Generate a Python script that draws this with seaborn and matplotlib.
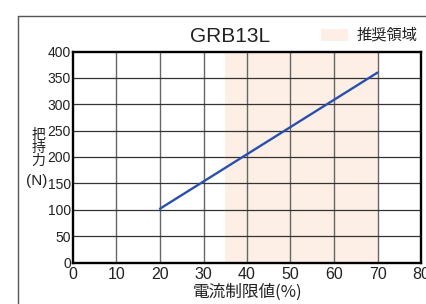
import matplotlib
matplotlib.use("Agg")
import matplotlib.pyplot as plt
import seaborn as sns
import pandas as pd
from matplotlib.lines import Line2D
from matplotlib.patches import Rectangle

# Data
current_limit = [20, 70]          # 電流制限値 (%)
holding_force = [102, 360]        # 把持力 (N)
recommended_range = [35, 70]
x_ticks = [0, 10, 20, 30, 40, 50, 60, 70, 80]
y_ticks = [0, 50, 100, 150, 200, 250, 300, 350, 400]
title = "GRB13L"
legend_label = "推奨領域"
x_label = "電流制限値(%)"
y_label = "把\n持\n力"
y_unit = "(N)"

sns.set_style("white")
plt.rcParams['font.family'] = ['Liberation Sans', 'Noto Sans CJK JP', 'DejaVu Sans']
cjk = ['Noto Sans CJK JP', 'DejaVu Sans']

fig = plt.figure(figsize=(4.27, 3.04), dpi=100)
ax = fig.add_axes([73/427, 1-262.5/304, (421-73)/427, (262.5-51.5)/304])

df = pd.DataFrame({"x": current_limit, "y": holding_force})
ax.axvspan(recommended_range[0], recommended_range[1], color="#fdefe5", zorder=0, lw=0)
sns.lineplot(data=df, x="x", y="y", ax=ax, color="#2a50ae", lw=1.7, zorder=3)

ax.set_xlim(0, 80)
ax.set_ylim(0, 400)
ax.set_xticks(x_ticks)
ax.set_yticks(y_ticks)
ax.set_xticklabels([str(t) for t in x_ticks], fontsize=11.5)
ax.set_yticklabels([str(t) for t in y_ticks], fontsize=10)
ax.tick_params(axis='both', length=0, colors='#222222')
ax.tick_params(axis='x', pad=3)
ax.tick_params(axis='y', pad=1.5)
ax.set_xlabel("")
ax.set_ylabel("")

for v in x_ticks[1:-1]:
    ax.axvline(v, color="#666666", lw=1.0, zorder=1)
for v in y_ticks[1:-1]:
    ax.axhline(v, color="#333333", lw=0.9, zorder=1)

for s in ax.spines.values():
    s.set_color("black")
    s.set_linewidth(1.7)
    s.set_visible(True)

# outer frame (left and top edges visible)
fig.add_artist(Line2D([18/427, 18/427], [0, 1-16/304], transform=fig.transFigure, color="#555555", lw=1.0))
fig.add_artist(Line2D([18/427, 1], [1-16/304, 1-16/304], transform=fig.transFigure, color="#555555", lw=1.0))

fig.text(230.5/427, 1-36/304, title, ha="center", va="center", fontsize=15, color="#222222")

fig.add_artist(Rectangle((320.7/427, 1-41/304), 27.3/427, 12/304, transform=fig.transFigure,
                         facecolor="#fdefe5", edgecolor="none"))
fig.text(357/427, 1-35/304, legend_label, ha="left", va="center", fontsize=11, family=cjk, color="#222222")

fig.text(248/427, 1-292/304, x_label, ha="center", va="center", fontsize=12, family=cjk, color="#222222")
fig.text(38.5/427, 1-148/304, y_label, ha="center", va="center", fontsize=10, family=cjk,
         linespacing=0.9, color="#222222")
fig.text(37/427, 1-181/304, y_unit, ha="center", va="center", fontsize=11, color="#222222")

fig.savefig("out.png", dpi=100)
